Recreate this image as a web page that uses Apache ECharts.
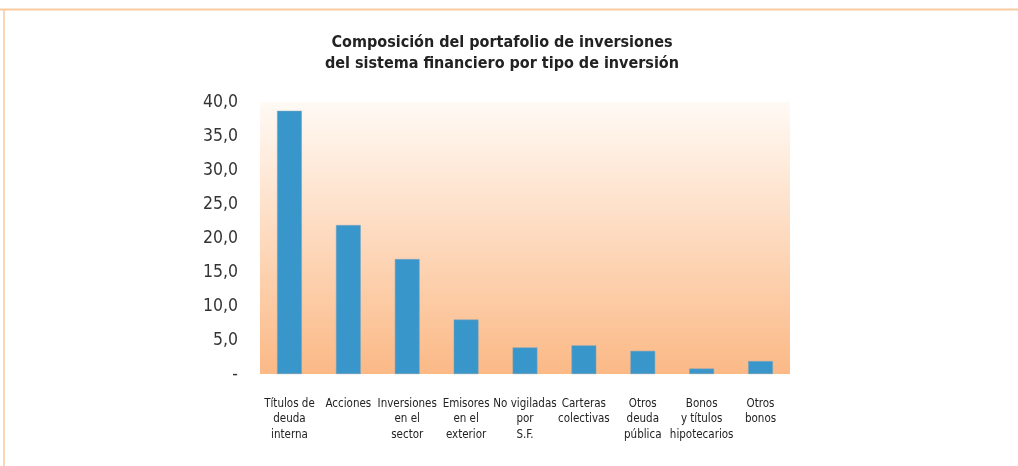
<!DOCTYPE html>
<html>
<head>
<meta charset="utf-8">
<script src="https://cdn.jsdelivr.net/npm/echarts@6/dist/echarts.min.js"></script>
<style>
body { margin: 0; background: #fff; }
#main { width: 1018px; height: 466px; }
</style>
</head>
<body>
<div id="main"></div>
<script>
// categorias (eje x)
var categorias = [
	'Títulos de\ndeuda\ninterna',
	'Acciones',
	'Inversiones\nen el\nsector',
	'Emisores\nen el\nexterior',
	'No vigiladas\npor\nS.F.',
	'Carteras\ncolectivas',
	'Otros\ndeuda\npública',
	'Bonos\ny títulos\nhipotecarios',
	'Otros\nbonos'
];
// participacion (%)
var participacion = [38.7, 21.9, 16.9, 8.0, 3.9, 4.2, 3.4, 0.8, 1.9];
var ticksY = [0, 5, 10, 15, 20, 25, 30, 35, 40];

var fuente = "'DejaVu Sans Condensed', 'Liberation Sans', Arial, sans-serif";

var dom = document.getElementById("main");
var myChart = echarts.init(dom);
var option = {
	backgroundColor: '#ffffff',
	animation: false,
	title: {
		text: 'Composición del portafolio de inversiones\ndel sistema financiero por tipo de inversión',
		left: 497,
		textAlign: 'center',
		top: 27,
		textStyle: {
			fontFamily: fuente,
			fontSize: 16,
			fontWeight: 'bold',
			color: '#222',
			lineHeight: 21
		}
	},
	grid: {
		left: 260,
		right: 228,
		top: 102,
		bottom: 92,
		show: true,
		borderWidth: 0,
		backgroundColor: new echarts.graphic.LinearGradient(0, 0, 0, 1, [
			{ offset: 0, color: '#fffaf5' },
			{ offset: 1, color: '#fbb986' }
		])
	},
	xAxis: {
		type: 'category',
		data: categorias,
		axisLine: { show: false },
		axisTick: { show: false },
		axisLabel: {
			interval: 0,
			margin: 22,
			fontFamily: fuente,
			fontSize: 11.5,
			lineHeight: 15.5,
			color: '#222'
		}
	},
	yAxis: {
		type: 'value',
		min: ticksY[0],
		max: ticksY[ticksY.length - 1],
		interval: 5,
		splitLine: { show: false },
		axisLine: { show: false },
		axisTick: { show: false },
		axisLabel: {
			margin: 22,
			fontFamily: fuente,
			fontSize: 17.5,
			color: '#333',
			formatter: function (v) {
				if (v == 0) return '-';
				return v.toFixed(1).replace('.', ',');
			}
		}
	},
	series: [
		{
			type: 'bar',
			data: participacion,
			barWidth: '42%',
			itemStyle: {
				color: '#3996cb',
				borderColor: '#7aa3bd',
				borderWidth: 0.5
			}
		}
	],
	graphic: [
		{
			type: 'line',
			shape: { x1: 0, y1: 9.5, x2: 1018, y2: 9.5 },
			style: { stroke: '#f9c9a0', lineWidth: 2 }
		},
		{
			type: 'line',
			shape: { x1: 4, y1: 9.5, x2: 4, y2: 466 },
			style: { stroke: '#f9c9a0', lineWidth: 1.5 }
		}
	]
};
myChart.setOption(option, true);
</script>
</body>
</html>
